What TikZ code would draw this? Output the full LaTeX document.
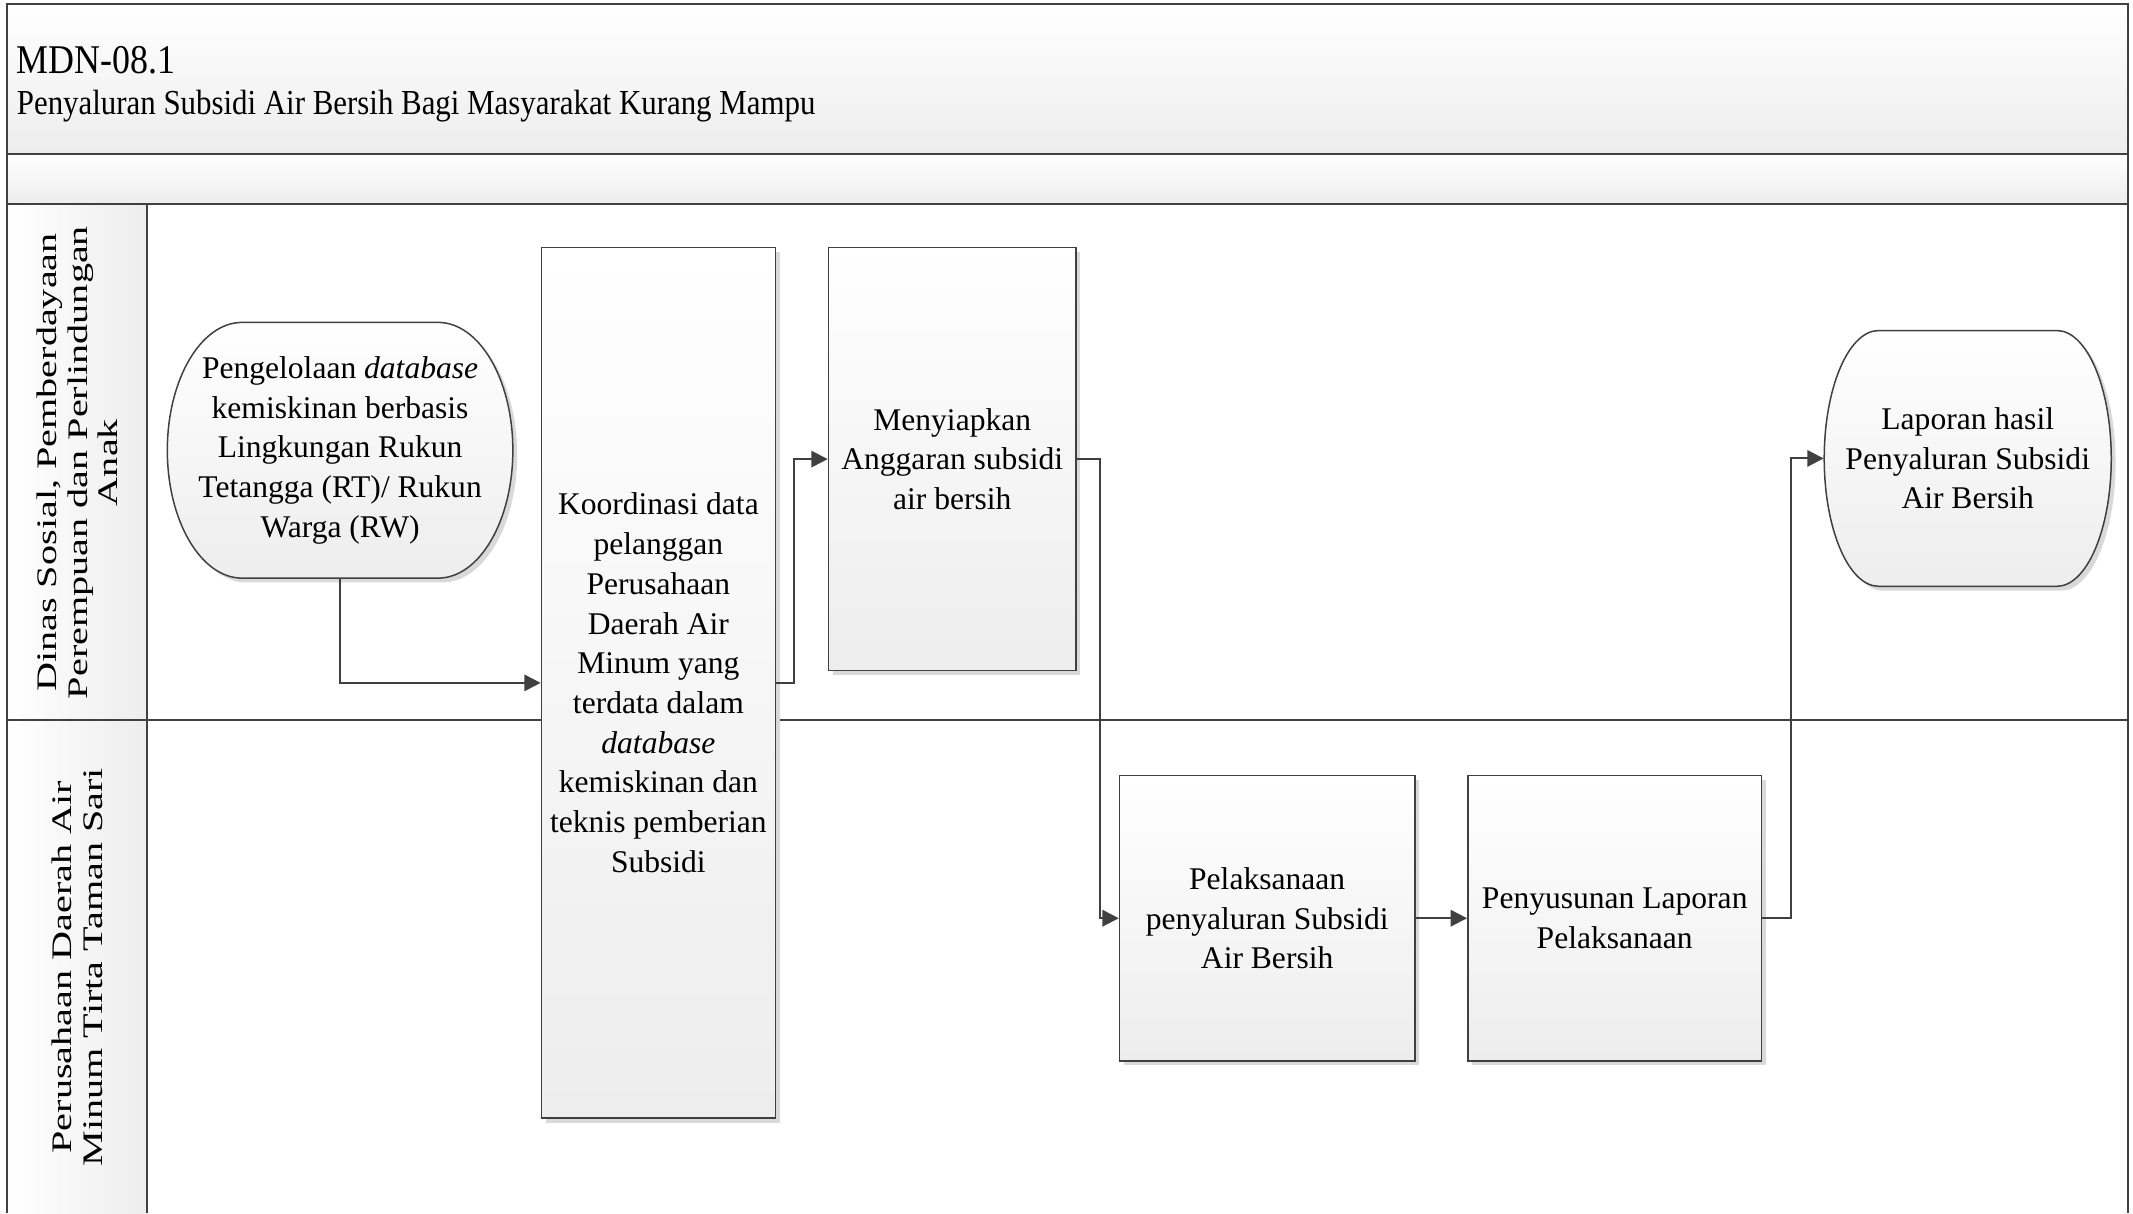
\documentclass[tikz,border=0pt]{standalone}
\usepackage{fontspec}
\setmainfont{Liberation Serif}
\newfontfamily\titlefont[FakeStretch=0.88]{Liberation Serif}
\newfontfamily\lanefont[FakeStretch=1.42]{Liberation Serif}
\usetikzlibrary{arrows.meta,shadows}
\definecolor{ln}{HTML}{404040}
\definecolor{shadebot}{HTML}{EDEDED}
\definecolor{shadowc}{HTML}{D9D9D9}
\newcommand{\flowtxt}{\fontsize{11.6}{14.6}\selectfont}
\begin{document}
\begin{tikzpicture}[x=0.5pt,y=-0.5pt,
  frame/.style={draw=ln, line width=0.8pt},
  band/.style={top color=white, bottom color=shadebot},
  lanehead/.style={left color=white, right color=shadebot},
  boxshadow/.style={drop shadow={shadow xshift=1.6pt, shadow yshift=-1.6pt, fill=shadowc, opacity=1}},
  stepbox/.style={draw=ln, line width=0.55pt, top color=white, bottom color=shadebot, boxshadow, align=center, inner sep=0pt, font=\flowtxt},
  termshape/.style={draw=ln, line width=0.55pt, top color=white, bottom color=shadebot, boxshadow},
  termtext/.style={align=center, inner sep=0pt, font=\flowtxt},
  flow/.style={draw=ln, line width=0.75pt, -{Triangle[length=6pt,width=6pt]}},
  lanelabel/.style={rotate=90, align=center, inner sep=0pt, font=\lanefont\fontsize{10.4}{11.3}\selectfont},
  titletext/.style={anchor=base west, inner sep=0pt}
]
\useasboundingbox (0,0) rectangle (1568,892);

% bands and lane headers
\fill[band] (5,3) rectangle (1564,113);
\fill[band] (5,113) rectangle (1564,150);
\fill[lanehead] (5,150) rectangle (108,529);
\fill[lanehead] (5,529) rectangle (108,892);
\draw[frame] (5,892) -- (5,3) -- (1564,3) -- (1564,892);
\draw[frame] (5,113) -- (1564,113);
\draw[frame] (5,150) -- (1564,150);
\draw[frame] (5,529) -- (1564,529);
\draw[frame] (108,150) -- (108,892);

% titles
\node[titletext, font=\titlefont\fontsize{15}{18}\selectfont] (code) at (12,54) {MDN-08.1};
\node[titletext, font=\titlefont\fontsize{12.9}{15}\selectfont] (title) at (12,84) {Penyaluran Subsidi Air Bersih Bagi Masyarakat Kurang Mampu};

% lane labels
\node[lanelabel] (lane1) at (57,340) {Dinas Sosial, Pemberdayaan\\Perempuan dan Perlindungan\\Anak};
\node[lanelabel] (lane2) at (57,711) {Perusahaan Daerah Air\\Minum Tirta Taman Sari};

% terminator shapes
\draw[termshape] (178,237) -- (322,237)
  arc[start angle=90, end angle=-90, x radius=27.5pt, y radius=47pt]
  -- (178,425)
  arc[start angle=270, end angle=90, x radius=27.5pt, y radius=47pt] -- cycle;
\draw[termshape] (1381,243) -- (1512,243)
  arc[start angle=90, end angle=-90, x radius=20pt, y radius=47pt]
  -- (1381,431)
  arc[start angle=270, end angle=90, x radius=20pt, y radius=47pt] -- cycle;

\node[termtext, minimum width=127pt, minimum height=94pt] (start) at (250,331)
  {Pengelolaan \textit{database}\\kemiskinan berbasis\\Lingkungan Rukun\\Tetangga (RT)/ Rukun\\Warga (RW)};
\node[termtext, minimum width=105.5pt, minimum height=94pt] (finish) at (1446.5,337)
  {Laporan hasil\\Penyaluran Subsidi\\Air Bersih};

% process boxes
\node[stepbox, minimum width=86pt, minimum height=320pt] (koord) at (484,502)
  {Koordinasi data\\pelanggan\\Perusahaan\\Daerah Air\\Minum yang\\terdata dalam\\\textit{database}\\kemiskinan dan\\teknis pemberian\\Subsidi};
\node[stepbox, minimum width=91pt, minimum height=155.5pt] (meny) at (700,337.5)
  {Menyiapkan\\Anggaran subsidi\\air bersih};
\node[stepbox, minimum width=108.5pt, minimum height=105pt] (pel) at (931.5,675)
  {Pelaksanaan\\penyaluran Subsidi\\Air Bersih};
\node[stepbox, minimum width=108pt, minimum height=105pt] (pen) at (1187,675)
  {Penyusunan Laporan\\Pelaksanaan};

% connectors
\draw[flow] (start.south) |- (koord.west);
\draw[flow] (koord.east) -- ++(13,0) |- (meny.west);
\draw[flow] (meny.east) -- ++(17,0) |- (pel.west);
\draw[flow] (pel.east) -- (pen.west);
\draw[flow] (pen.east) -- ++(21,0) |- (finish.west);
\end{tikzpicture}
\end{document}
